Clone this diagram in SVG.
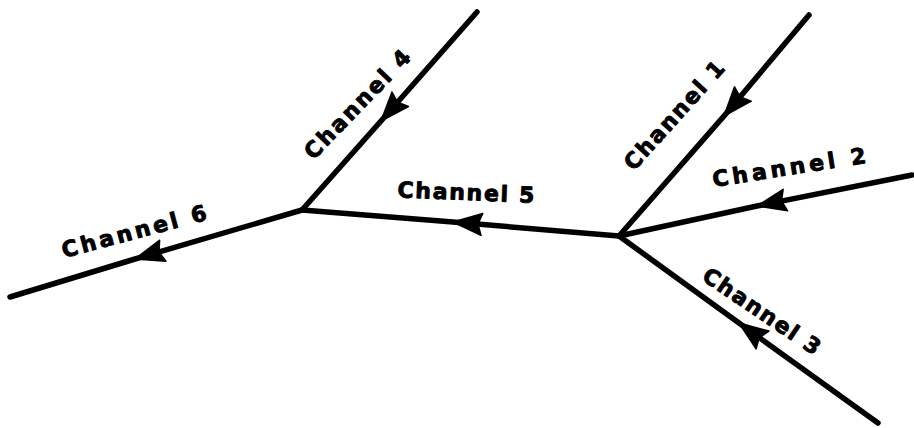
<svg xmlns="http://www.w3.org/2000/svg" width="914" height="428" viewBox="0 0 914 428">
  <style>
    .ch { fill: none; stroke: #000; stroke-width: 5.5; stroke-linecap: round; stroke-linejoin: round; marker-mid: url(#flow); }
    .lbl { font-family: "DejaVu Sans", "Liberation Sans", sans-serif; font-weight: bold; font-size: 22px; fill: #000; stroke: #000; stroke-width: 0.9; stroke-linejoin: round; text-anchor: middle; }
  </style>
  <defs>
    <!-- flow direction arrowhead, tip sits on the mid vertex of each channel path -->
    <marker id="flow" viewBox="0 0 30 24" refX="30" refY="12" markerWidth="30" markerHeight="24" markerUnits="userSpaceOnUse" orient="auto">
      <path d="M30,12 L1,1 L5,12 L1,23 Z" fill="#000" stroke="#000" stroke-width="1.5" stroke-linejoin="round"/>
    </marker>
  </defs>
  <rect width="914" height="428" fill="#fff"/>

  <g id="connectors">
    <!-- each path: upstream end, arrow tip, downstream end -->
    <path id="channel-1" class="ch" d="M809,15 L724,116 L619,236"/>
    <path id="channel-2" class="ch" d="M912,175 L757,206 L619,236"/>
    <path id="channel-3" class="ch" d="M878,423 L739,323 L619,236"/>
    <path id="channel-4" class="ch" d="M477,12 L381,121 L302,210"/>
    <path id="channel-5" class="ch" d="M619,236 L453,222 L302,210"/>
    <path id="channel-6" class="ch" d="M302,210 L135,259 L10,297"/>
  </g>

  <g id="label-1"><text class="lbl" transform="translate(674,115) rotate(-48)" dy="8" textLength="138" lengthAdjust="spacing">Channel 1</text></g>
  <g id="label-2"><text class="lbl" transform="translate(789,167) rotate(-9)" dy="8" textLength="155" lengthAdjust="spacing">Channel 2</text></g>
  <g id="label-3"><text class="lbl" transform="translate(762,311) rotate(34)" dy="8" textLength="137" lengthAdjust="spacing">Channel 3</text></g>
  <g id="label-4"><text class="lbl" transform="translate(357,104) rotate(-46)" dy="8" textLength="142" lengthAdjust="spacing">Channel 4</text></g>
  <g id="label-5"><text class="lbl" transform="translate(466,192) rotate(2.3)" dy="8" textLength="137" lengthAdjust="spacing">Channel 5</text></g>
  <g id="label-6"><text class="lbl" transform="translate(134,231) rotate(-15)" dy="8" textLength="149" lengthAdjust="spacing">Channel 6</text></g>
</svg>
